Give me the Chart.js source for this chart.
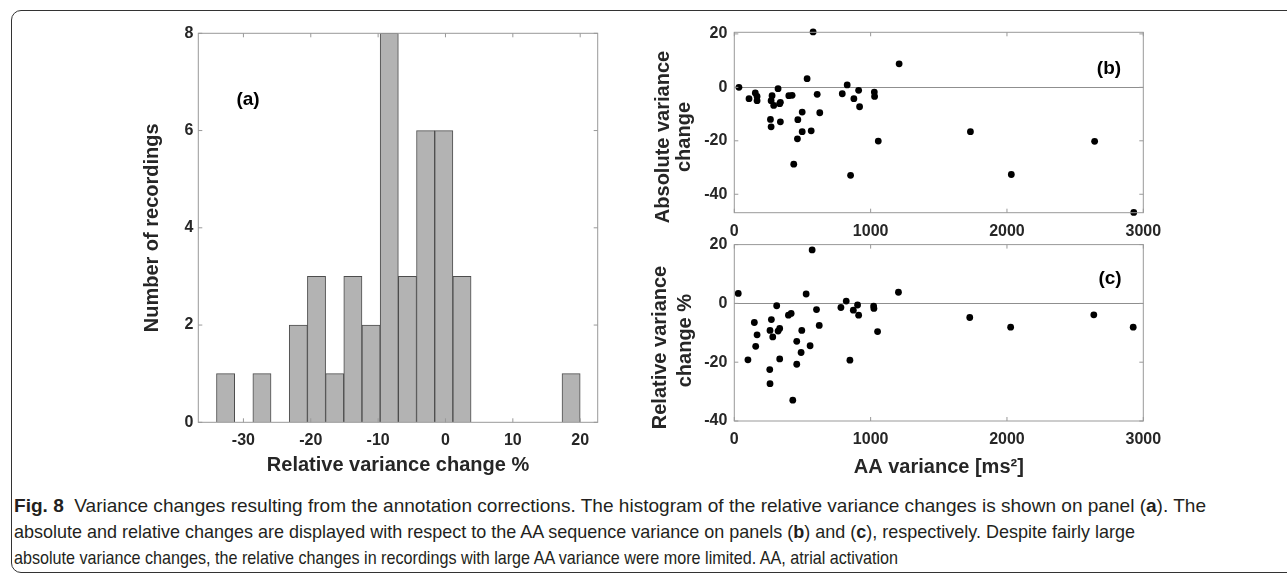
<!DOCTYPE html>
<html>
<head>
<meta charset="utf-8">
<script src="https://cdn.jsdelivr.net/npm/chart.js@4.4.1/dist/chart.umd.min.js"></script>
<style>
  body { margin: 0; width: 1287px; height: 581px; overflow: hidden; position: relative; background: #fff; }
  .frame { position: absolute; left: 11px; top: 10px; width: 1400px; height: 563px; box-sizing: border-box;
           border: 1.5px solid #333; border-radius: 10px; }
  .box { position: absolute; }
  .cap { position: absolute; left: 14px; width: max-content; white-space: nowrap; transform-origin: 0 50%; line-height: 22px;
         font-family: "Liberation Sans Narrow", "Arial Narrow", "Liberation Sans", Arial, sans-serif;
         font-size: 19px; color: #231f20; }
</style>
</head>
<body>
<div class="frame"></div>

<div class="box" style="left:120px; top:0px;"><canvas id="hist" width="500" height="490"></canvas></div>
<div class="box" style="left:620px; top:0px;"><canvas id="absChart" width="560" height="240"></canvas></div>
<div class="box" style="left:620px; top:228px;"><canvas id="relChart" width="560" height="262"></canvas></div>

<div class="cap" data-w="1192" style="top:495px"><b>Fig. 8</b>&nbsp; Variance changes resulting from the annotation corrections. The histogram of the relative variance changes is shown on panel (<b>a</b>). The</div>
<div class="cap" data-w="1121" style="top:521px">absolute and relative changes are displayed with respect to the AA sequence variance on panels (<b>b</b>) and (<b>c</b>), respectively. Despite fairly large</div>
<div class="cap" data-w="884" style="top:547px">absolute variance changes, the relative changes in recordings with large AA variance were more limited. AA, atrial activation</div>

<script>
// histogram (a): bin centres (bin width 2.7) and counts
const binCenters = [-32.65, -29.95, -27.25, -24.55, -21.85, -19.15, -16.45, -13.75, -11.05, -8.35,
                    -5.65, -2.95, -0.25, 2.45, 5.15, 7.85, 10.55, 13.25, 15.95, 18.65];
const binCounts = [1, 0, 1, 0, 2, 3, 1, 3, 2, 8, 3, 6, 6, 3, 0, 0, 0, 0, 0, 1];

// panel (b): AA variance vs absolute variance change
const aaVarAbs = [34, 108, 154, 167, 167, 265, 270, 270, 277, 289, 321, 333, 338, 338, 400, 424, 436, 463, 466, 498,
                  498, 534, 564, 578, 608, 627, 792, 828, 853, 877, 912, 919, 1027, 1029, 1056, 1209, 1732, 2032, 2643, 2930];
const absChange = [0, -4.25, -2.1, -3.4, -5, -12, -5, -14.75, -3.1, -6.75, -0.5, -6.1, -5.6, -12.9, -3.1, -3, -28.75, -19.25, -12.1, -9.25,
                   -16.6, 3.25, -16.25, 20.75, -2.6, -9.5, -2.4, 0.9, -32.9, -4.25, -1.1, -7.25, -1.75, -3.4, -20.1, 8.8, -16.6, -32.6, -20.2, -46.8];

// panel (c): AA variance vs relative variance change %
const aaVarRel = [29, 100, 147, 157, 167, 260, 262, 262, 272, 282, 311, 321, 333, 333, 397, 417, 429, 458, 458, 490,
                  495, 527, 556, 571, 603, 623, 782, 821, 848, 873, 904, 912, 1022, 1024, 1051, 1204, 1727, 2027, 2637, 2926];
const relChange = [3.4, -19.2, -6.5, -14.6, -10.7, -22.5, -9.2, -27.3, -5.5, -11.4, -0.8, -9.4, -8.5, -18.9, -4, -3.4, -32.9, -12.9, -20.7, -16.7,
                   -9.2, 3.2, -14.4, 18.2, -2.1, -7.5, -1.4, 0.8, -19.3, -2.3, -0.55, -4, -0.9, -1.7, -9.6, 3.8, -4.8, -8.1, -3.9, -8.1];

// tick labels
const histXTicks = [-30, -20, -10, 0, 10, 20];
const histYTicks = [0, 2, 4, 6, 8];
const aaTicks = [0, 1000, 2000, 3000];
const changeTicks = [-40, -20, 0, 20];

const FONT = '"Liberation Sans", Arial, Helvetica, sans-serif';
Chart.defaults.font = { family: FONT, size: 16, weight: 'bold' };
Chart.defaults.color = '#262626';

//matlab-like box: frame on all sides, inward ticks, panel letter and optional two-line y label
const matlabAxes = {
    id: 'matlabAxes',
    afterDatasetsDraw(chart, args, opts) {
        const { ctx, chartArea: a, scales } = chart;
        ctx.save();
        ctx.strokeStyle = '#999';
        ctx.lineWidth = 1;
        ctx.beginPath();
        scales.x.ticks.forEach(t => {
            const px = scales.x.getPixelForValue(t.value);
            ctx.moveTo(px, a.bottom); ctx.lineTo(px, a.bottom - 4);
            ctx.moveTo(px, a.top); ctx.lineTo(px, a.top + 4);
        });
        scales.y.ticks.forEach(t => {
            const py = scales.y.getPixelForValue(t.value);
            ctx.moveTo(a.left, py); ctx.lineTo(a.left + 4, py);
            ctx.moveTo(a.right, py); ctx.lineTo(a.right - 4, py);
        });
        ctx.stroke();
        ctx.strokeRect(a.left, a.top, a.width, a.height);

        ctx.fillStyle = '#000';
        ctx.textAlign = 'center';
        ctx.textBaseline = 'middle';
        ctx.font = 'bold 19px ' + FONT;
        ctx.fillText(opts.label, a.left + opts.labelX, a.top + opts.labelY);

        if (opts.yTitle) {
            ctx.fillStyle = '#262626';
            ctx.font = 'bold 20px ' + FONT;
            opts.yTitle.forEach(line => {
                ctx.save();
                ctx.translate(line.x, line.y);
                ctx.rotate(-Math.PI / 2);
                ctx.fillText(line.text, 0, 0);
                ctx.restore();
            });
        }
        ctx.restore();
    }
};
Chart.register(matlabAxes);

const setTicks = list => scale => { scale.ticks = list.map(v => ({ value: v })); };

new Chart(document.getElementById('hist'), {
    type: 'bar',
    data: {
        datasets: [{
            data: binCenters.map((c, i) => ({ x: c, y: binCounts[i] })),
            backgroundColor: '#b3b3b3',
            borderColor: '#4d4d4d',
            borderWidth: 1,
            barPercentage: 1,
            categoryPercentage: 1
        }]
    },
    options: {
        responsive: false,
        animation: false,
        layout: { padding: { top: 33.3, right: 22.3, left: 0, bottom: 0 } },
        plugins: {
            legend: { display: false },
            tooltip: { enabled: false },
            matlabAxes: { label: '(a)', labelX: 49.7, labelY: 66.7 }
        },
        scales: {
            x: {
                type: 'linear', min: -36.7, max: 22.6, offset: false,
                grid: { display: false, drawTicks: false }, border: { display: false },
                afterBuildTicks: setTicks(histXTicks),
                afterFit: s => { s.height = 67.7; },
                ticks: { padding: 8.8, callback: v => String(v) },
                title: { display: true, text: 'Relative variance change %', font: { size: 20, weight: 'bold' },
                         padding: { top: 0, bottom: 13 } }
            },
            y: {
                min: 0, max: 8,
                grid: { display: false, drawTicks: false }, border: { display: false },
                afterBuildTicks: setTicks(histYTicks),
                afterFit: s => { s.width = 78.3; },
                ticks: { padding: 5, callback: v => String(v) },
                title: { display: true, text: 'Number of recordings', font: { size: 20, weight: 'bold' },
                         padding: { top: 20.5, bottom: 0 } }
            }
        }
    }
});

function scatterChart(id, xs, ys, opt) {
    return new Chart(document.getElementById(id), {
        type: 'scatter',
        data: {
            datasets: [{
                data: xs.map((x, i) => ({ x: x, y: ys[i] })),
                backgroundColor: '#000',
                borderWidth: 0,
                pointRadius: 3.4,
                clip: false
            }]
        },
        options: {
            responsive: false,
            animation: false,
            layout: { padding: { top: opt.padTop, right: 36.7, left: 0, bottom: 0 } },
            plugins: {
                legend: { display: false },
                tooltip: { enabled: false },
                matlabAxes: { label: opt.label, labelX: opt.labelX, labelY: opt.labelY, yTitle: opt.yTitle }
            },
            scales: {
                x: {
                    type: 'linear', min: 0, max: 3000,
                    grid: { display: false, drawTicks: false }, border: { display: false },
                    afterBuildTicks: setTicks(aaTicks),
                    afterFit: s => { s.height = opt.xHeight; },
                    ticks: { padding: opt.xPad, callback: v => String(v) },
                    title: opt.xTitle ? { display: true, text: opt.xTitle, font: { size: 20, weight: 'bold' },
                                          padding: { top: 0, bottom: 11 } } : { display: false }
                },
                y: {
                    min: opt.yMin, max: opt.yMax,
                    grid: { drawTicks: false, color: c => (c.tick && c.tick.value === 0) ? '#8f8f8f' : 'rgba(0,0,0,0)' },
                    border: { display: false },
                    afterBuildTicks: setTicks(changeTicks),
                    afterFit: s => { s.width = 114.3; },
                    ticks: { padding: 7, callback: v => String(v) }
                }
            }
        }
    });
}

scatterChart('absChart', aaVarAbs, absChange, {
    padTop: 32.3, xHeight: 27.3, xPad: 9.2, yMin: -46.9, yMax: 20.6,
    label: '(b)', labelX: 374.7, labelY: 36.7,
    yTitle: [{ text: 'Absolute variance', x: 43, y: 137 }, { text: 'change', x: 64, y: 137 }]
});

scatterChart('relChart', aaVarRel, relChange, {
    padTop: 12.7, xHeight: 69, xPad: 9.4, yMin: -40, yMax: 20,
    label: '(c)', labelX: 375.7, labelY: 34.3, xTitle: 'AA variance [ms²]',
    yTitle: [{ text: 'Relative variance', x: 40, y: 119.5 }, { text: 'change %', x: 65, y: 112.6 }]
});

//squeeze each caption line to the width it has in the figure
document.querySelectorAll('.cap').forEach(el => {
    const w = el.getBoundingClientRect().width;
    el.style.transform = 'scaleX(' + (Number(el.dataset.w) / w) + ')';
});
</script>
</body>
</html>
